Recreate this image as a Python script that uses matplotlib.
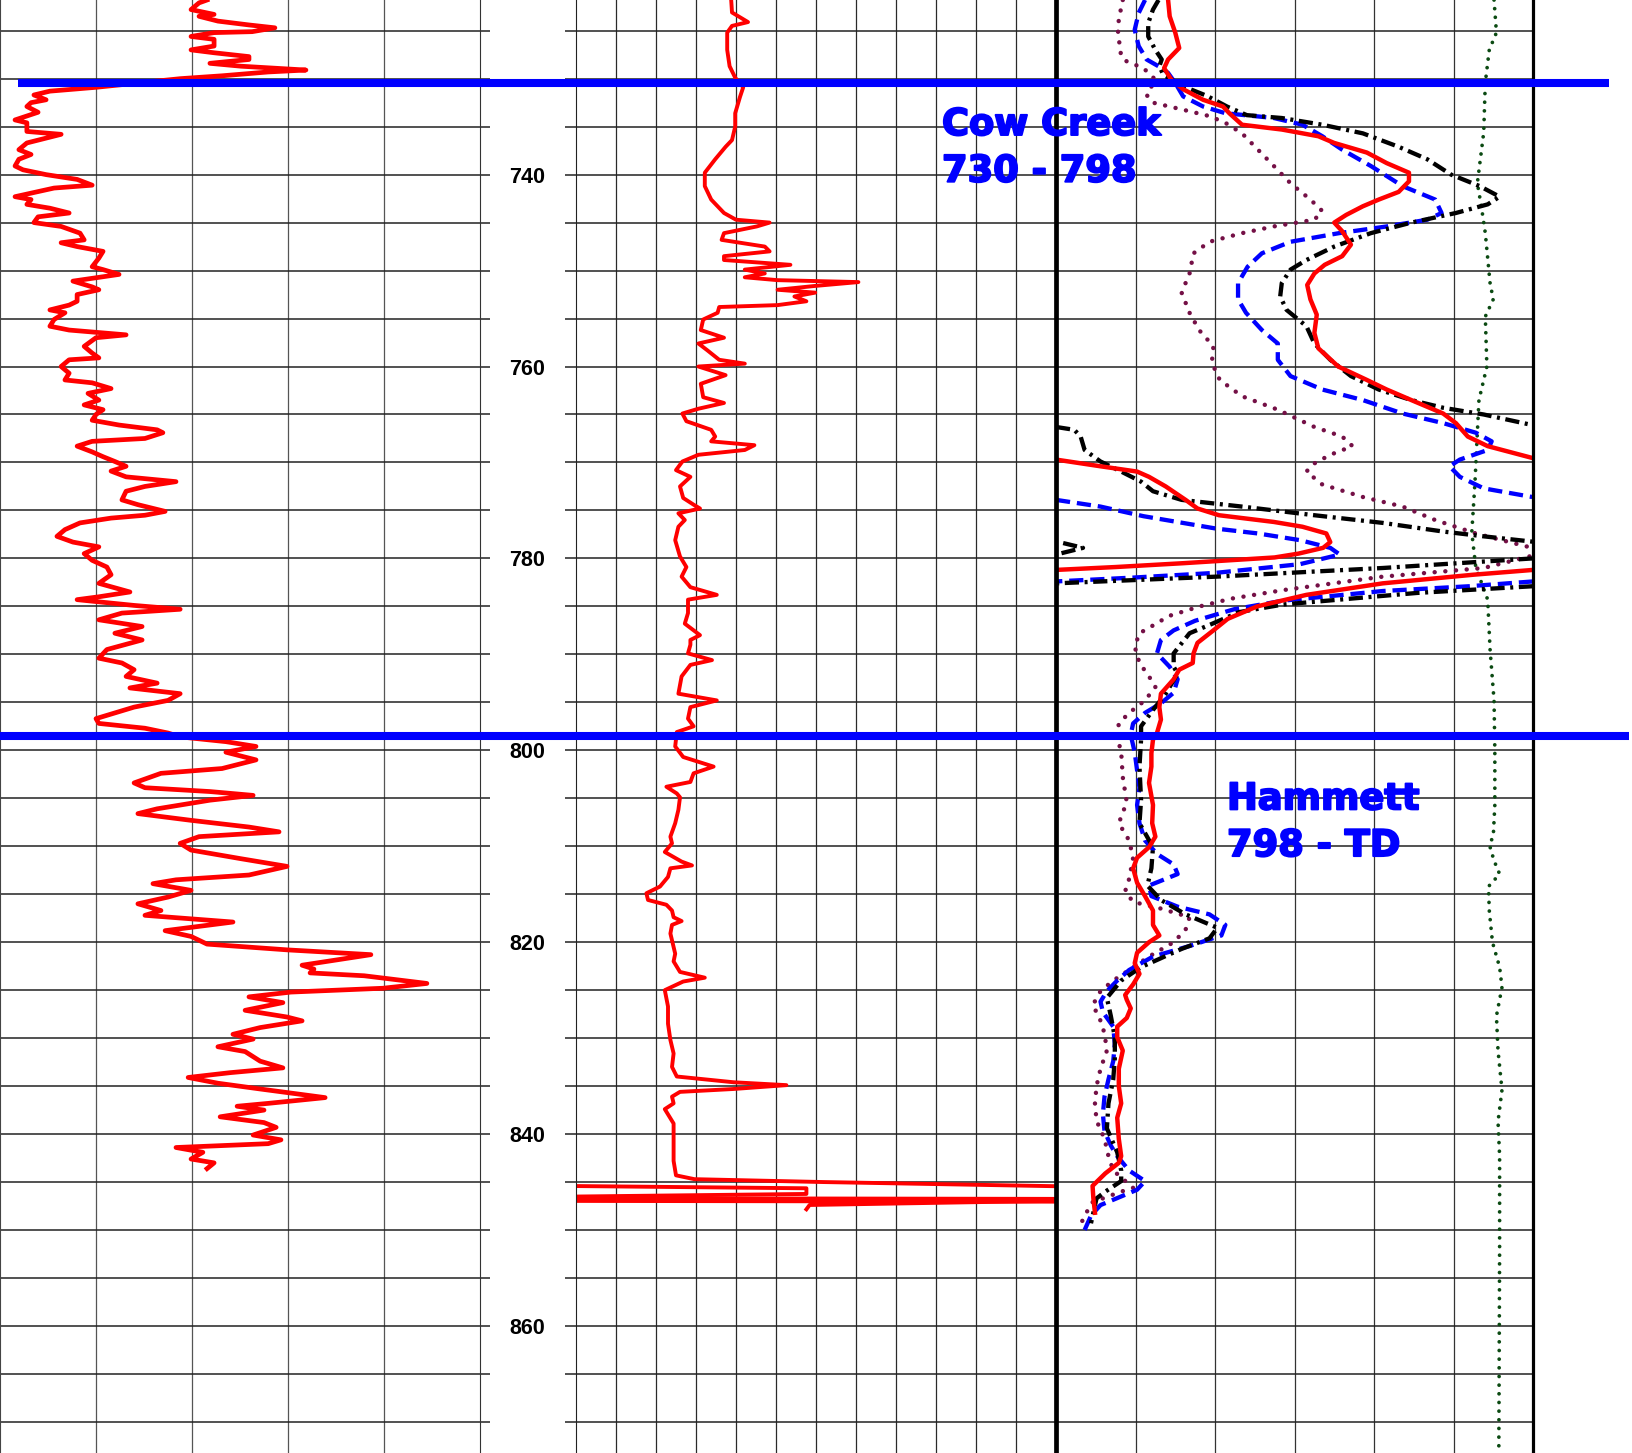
import numpy as np
import matplotlib.pyplot as plt
import matplotlib.patheffects as pe
from matplotlib.lines import Line2D
from matplotlib.transforms import blended_transform_factory

nan = np.nan

# depth window of the log section
depth_top, depth_base = 721.8, 873.24
depth_labels = [740, 760, 780, 800, 820, 840, 860]
grid_depths = np.arange(725, 871, 5)

# formation tops
formation_tops = [730.5, 798.5]
formation_names = ['Cow Creek', 'Hammett']
formation_ranges = ['730 - 798', '798 - TD']

# track 1 - gamma ray (0-150)
gr_depth = [
    721.8, 722.1, 722.8, 723.3, 723.5, 724.0, 724.4, 724.7, 725.1, 725.2,
    725.6, 725.9, 726.6, 727.0, 727.3, 727.7, 728.0, 728.4, 728.7, 729.1,
    729.3, 729.7, 730.0, 730.9, 731.3, 731.7, 732.2, 732.5, 732.9, 733.5,
    734.3, 734.6, 735.5, 735.8, 736.4, 736.7, 737.4, 737.9, 738.4, 739.1,
    739.5, 740.0, 740.5, 741.1, 741.4, 742.3, 742.6, 743.1, 743.5, 744.0,
    744.4, 745.0, 745.4, 746.1, 746.8, 747.1, 747.5, 748.0, 748.7, 749.6,
    749.9, 750.4, 751.1, 751.7, 752.0, 752.5, 753.2, 753.6, 754.1, 754.4,
    755.1, 755.8, 756.2, 756.7, 757.0, 757.9, 758.6, 759.1, 759.3, 760.0,
    760.7, 761.4, 761.7, 762.3, 762.8, 763.5, 764.0, 764.5, 765.0, 765.6,
    766.1, 766.6, 766.9, 767.5, 767.8, 768.3, 768.9, 769.4, 769.9, 770.4,
    770.9, 771.5, 772.0, 772.5, 773.0, 773.9, 774.4, 775.1, 775.5, 775.8,
    776.3, 777.0, 777.7, 778.3, 778.8, 779.5, 780.2, 780.9, 781.7, 782.6,
    783.5, 784.0, 784.3, 784.9, 785.3, 785.7, 786.4, 787.1, 787.8, 788.5,
    789.5, 790.4, 790.9, 791.6, 792.3, 793.0, 793.5, 794.1, 794.8, 795.5,
    796.1, 796.7, 797.2, 797.7, 798.2, 798.6, 799.1, 799.6, 800.2, 801.0,
    801.9, 802.4, 803.1, 803.4, 803.9, 804.3, 804.7, 805.2, 806.1, 806.6,
    806.9, 807.3, 808.0, 808.5, 809.0, 809.7, 810.4, 811.3, 812.1, 813.0,
    813.5, 813.9, 814.6, 815.3, 816.0, 816.7, 817.2, 817.9, 818.8, 819.4,
    820.2, 820.8, 821.3, 822.4, 822.8, 823.2, 823.5, 824.3, 824.8, 825.2,
    825.7, 826.3, 827.1, 827.8, 828.2, 828.9, 829.6, 830.1, 830.9, 831.4,
    832.4, 833.1, 833.6, 834.1, 834.7, 835.3, 836.2, 836.8, 837.1, 837.5,
    838.2, 838.8, 839.3, 840.1, 840.6, 841.0, 841.4, 841.9, 842.6, 843.0,
    843.6]
gr_api = [
    64.7, 62.2, 59.7, 66.9, 62.2, 68.1, 77.8, 85.9, 78.8, 66.9,
    59.7, 66.9, 66.9, 59.7, 66.9, 77.8, 77.8, 65.6, 75.3, 95.6,
    83.8, 69.4, 56.3, 30.0, 15.6, 10.6, 14.4, 9.7, 8.4, 11.9,
    4.7, 8.4, 8.4, 19.1, 11.9, 8.4, 5.9, 9.7, 5.9, 4.7,
    7.2, 14.4, 24.1, 28.8, 16.9, 4.7, 9.7, 8.4, 15.6, 21.6,
    11.9, 10.6, 19.1, 25.0, 26.3, 19.1, 24.1, 32.2, 30.9, 28.8,
    32.2, 37.2, 22.8, 28.8, 30.9, 24.1, 24.1, 21.6, 15.6, 20.3,
    16.9, 15.6, 21.6, 39.4, 30.0, 26.3, 28.8, 30.9, 21.6, 19.1,
    21.6, 20.3, 28.8, 34.7, 27.5, 30.9, 26.3, 32.2, 30.0, 28.8,
    37.2, 49.1, 50.9, 45.3, 28.8, 24.1, 28.8, 32.2, 35.9, 39.4,
    34.7, 39.4, 55.0, 45.3, 39.4, 38.1, 43.1, 51.6, 45.3, 34.7,
    25.0, 20.3, 17.8, 22.8, 30.9, 26.3, 28.8, 33.4, 34.7, 30.9,
    40.6, 30.9, 24.1, 41.9, 56.3, 38.1, 30.9, 44.4, 35.9, 44.4,
    33.4, 30.9, 38.1, 41.9, 39.4, 49.1, 40.6, 56.3, 52.5, 41.9,
    35.9, 30.0, 30.9, 45.3, 52.5, 56.3, 70.6, 80.0, 70.6, 80.0,
    69.4, 50.3, 44.4, 41.9, 45.3, 65.6, 79.1, 65.6, 49.1, 43.1,
    50.3, 59.7, 77.8, 87.2, 62.2, 56.3, 59.7, 75.3, 89.7, 77.8,
    55.0, 47.8, 59.7, 52.5, 43.1, 50.3, 45.3, 72.8, 51.6, 59.7,
    64.7, 89.7, 115.9, 94.4, 98.1, 96.9, 113.8, 133.4, 119.7, 90.9,
    77.8, 88.4, 76.6, 89.7, 94.4, 81.3, 72.8, 79.1, 68.1, 76.6,
    81.3, 88.4, 71.9, 58.8, 68.1, 81.3, 101.6, 83.8, 74.1, 82.5,
    68.8, 82.5, 86.3, 79.1, 87.8, 83.8, 55.0, 63.4, 59.7, 66.9,
    64.7]

# track 2 - middle curve (0-60)
mid_depth = [
    721.8, 723.1, 723.6, 724.1, 724.5, 725.2, 727.0, 728.7, 729.9, 730.9,
    731.9, 733.6, 735.0, 736.4, 737.1, 738.4, 739.8, 741.2, 742.6, 744.0,
    744.7, 745.0, 745.4, 746.1, 746.8, 747.5, 748.0, 748.5, 748.9, 749.4,
    749.9, 750.3, 750.7, 751.0, 751.2, 751.6, 752.0, 752.3, 752.7, 753.2,
    753.6, 753.8, 754.4, 755.1, 756.2, 757.0, 757.6, 758.3, 759.3, 759.7,
    760.0, 760.9, 761.8, 763.2, 763.8, 764.4, 764.9, 765.7, 766.6, 767.3,
    767.8, 768.2, 768.7, 769.2, 769.9, 770.8, 771.5, 772.5, 773.7, 774.4,
    774.8, 775.3, 776.0, 776.7, 778.1, 779.8, 780.9, 781.9, 783.0, 783.8,
    784.3, 785.7, 786.8, 788.0, 788.5, 789.0, 789.9, 790.6, 791.1, 792.3,
    794.1, 794.8, 795.5, 796.7, 797.5, 798.1, 799.6, 800.7, 801.7, 802.4,
    803.3, 803.8, 804.5, 804.9, 806.2, 807.6, 809.0, 809.7, 810.6, 811.6,
    812.0, 812.3, 813.2, 814.2, 814.9, 815.6, 816.1, 816.7, 817.4, 817.8,
    818.2, 819.1, 820.5, 821.2, 822.0, 823.1, 823.7, 824.1, 825.0, 826.7,
    828.5, 830.2, 831.6, 833.0, 834.0, 834.6, 834.9, 835.3, 835.6, 836.1,
    836.8, 837.4, 838.9, 841.0, 842.8, 844.3, 844.7, 845.0, 845.45]
mid_value = [
    19.4, 19.5, 20.5, 21.5, 19.5, 18.9, 18.9, 19.2, 19.9, 20.9,
    20.5, 19.9, 19.9, 19.5, 18.7, 17.4, 16.1, 16.1, 16.9, 18.5,
    20.0, 24.2, 22.6, 18.5, 18.2, 23.6, 24.2, 18.5, 18.5, 26.8,
    21.1, 23.6, 21.1, 25.2, 35.3, 29.9, 25.2, 29.9, 27.3, 28.8,
    25.2, 17.9, 17.7, 15.9, 15.6, 18.5, 15.3, 16.4, 17.9, 21.1,
    15.3, 18.7, 15.6, 15.9, 18.5, 15.3, 13.3, 13.8, 16.9, 17.4,
    16.9, 22.3, 21.1, 15.3, 13.3, 12.5, 14.3, 13.0, 13.4, 14.7,
    15.5, 12.8, 13.6, 12.8, 12.4, 13.0, 13.8, 13.2, 14.3, 17.6,
    14.0, 14.0, 13.6, 15.5, 14.3, 14.3, 14.0, 17.0, 14.3, 13.2,
    12.8, 17.6, 14.3, 14.0, 14.7, 12.6, 12.4, 13.4, 17.2, 14.7,
    14.3, 11.3, 12.6, 13.0, 12.8, 12.4, 11.8, 12.0, 11.1, 13.2,
    14.5, 11.8, 11.5, 10.5, 8.8, 9.0, 11.3, 12.0, 12.2, 13.2,
    12.0, 11.8, 12.2, 12.4, 12.2, 13.0, 16.1, 13.4, 11.1, 11.5,
    11.5, 11.8, 12.2, 12.0, 12.6, 19.7, 26.3, 19.7, 13.0, 12.0,
    12.2, 11.1, 12.2, 12.2, 12.2, 12.5, 14.8, 30.9, 61.0]
# off-scale traces at the base of the log
mid_tail_depth = [845.41, 845.65, 846.24, 846.52, nan, 846.94, 847.39, 847.84]
mid_tail_value = [-1.0, 28.8, 28.8, -1.0, nan, 61.0, 29.2, 28.8]
mid_base_depth = [846.82, 846.90]
mid_base_value = [-1.0, 61.0]

# track 3 (0-60), nan marks a wrap of the curve across the track
red_depth = [
    721.8, 723.5, 725.2, 726.8, 728.0, 728.9, 730.1, 731.1, 732.2, 732.9,
    733.6, 734.8, 735.3, 736.0, 736.7, 737.7, 738.8, 739.8, 740.7, 741.8,
    742.6, 743.3, 744.2, 745.0, 745.9, 747.3, 748.5, 749.4, 750.3, 751.5,
    753.0, 754.6, 756.5, 758.1, 760.0, 761.4, 762.4, 763.5, 764.9, 765.9,
    767.3, 768.3, 769.55, nan,
    769.7, 770.4, 770.95, 771.5, 772.5, 773.9, 774.8, 775.5, 776.2, 776.7,
    777.4, 778.3, 778.9, 779.5, 779.9, 780.5, 780.9, 781.2, nan,
    781.2, 781.7, 782.6, 783.8, 785.0, 786.3, 787.5, 788.8, 789.9, 790.9,
    791.6, 792.6, 794.1, 795.5, 796.8, 798.2, 798.9, 800.3, 801.7, 803.4,
    805.7, 807.6, 809.0, 810.1, 811.2, 812.3, 813.8, 815.2, 816.7, 818.2,
    819.3, 820.0, 821.1, 822.2, 823.3, 824.4, 825.5, 826.0, 826.9, 827.9,
    828.8, 829.9, 831.3, 833.2, 835.0, 836.8, 838.3, 840.5, 842.3, 843.0,
    844.1, 845.4, 846.7, 848.2]
red_value = [
    14.1, 14.3, 15.0, 15.5, 14.1, 13.6, 14.5, 16.0, 18.5, 21.0,
    21.8, 23.4, 28.4, 33.0, 35.0, 39.1, 41.6, 44.4, 44.4, 43.1,
    40.6, 38.6, 36.5, 35.0, 36.0, 37.1, 36.0, 33.8, 32.5, 31.6,
    32.0, 32.8, 32.5, 33.0, 35.5, 39.1, 41.6, 44.7, 48.7, 50.3,
    51.8, 54.3, 60.0, nan,
    0.0, 5.6, 10.2, 11.7, 13.8, 16.3, 17.8, 20.5, 27.4, 31.0,
    34.0, 34.5, 33.6, 30.5, 27.5, 16.0, 7.5, 0.0, nan,
    60.0, 52.5, 41.1, 31.5, 25.3, 21.6, 19.8, 17.8, 17.3, 17.2,
    15.5, 14.8, 13.2, 13.0, 13.2, 12.7, 12.2, 12.0, 12.0, 11.7,
    12.2, 12.1, 12.5, 11.7, 10.2, 9.7, 10.2, 11.2, 12.2, 12.2,
    13.0, 11.7, 10.2, 9.9, 10.5, 9.7, 8.7, 8.9, 9.4, 8.9,
    7.7, 7.7, 8.4, 7.9, 7.9, 8.2, 7.7, 7.9, 8.2, 7.9,
    6.2, 4.6, 4.7, 4.9]

blue_depth = [
    721.8, 723.15, 724.9, 726.6, 728.0, 728.9, 729.4, 730.45, 731.85, 732.9,
    733.6, 734.1, 734.8, 736.0, 737.4, 739.1, 741.2, 742.6, 744.0, 744.7,
    745.4, 746.1, 747.0, 748.2, 749.6, 751.3, 753.0, 754.4, 756.2, 757.6,
    759.3, 761.0, 762.4, 763.5, 764.9, 765.9, 766.9, 767.8, 768.7, 769.7,
    770.4, 771.5, 772.7, 773.6, nan,
    773.9, 774.6, 775.6, 776.9, 777.4, 778.1, 778.9, 779.6, 780.6, 781.5,
    782.0, 782.4, nan,
    782.4, 782.9, 783.4, 784.4, 785.3, 786.5, 787.5, 788.5, 789.9, 791.3,
    792.6, 794.0, 795.1, 796.1, 797.2, 798.4, 800.2, 802.1, 803.9, 805.7,
    807.6, 809.4, 810.8, 811.9, 812.9, 813.6, 814.1, 815.2, 816.3, 817.1,
    818.2, 819.3, 820.4, 821.5, 822.9, 824.0, 825.1, 826.2, 827.3, 828.8,
    830.6, 832.4, 834.3, 836.1, 837.9, 839.7, 841.2, 842.3, 843.8, 844.9,
    845.8, 846.5, 847.4, 848.5, 850.0]
blue_value = [
    11.2, 10.4, 9.9, 10.4, 11.4, 13.3, 14.1, 15.0, 16.0, 18.5,
    21.3, 27.4, 31.0, 33.5, 36.0, 39.6, 43.6, 47.7, 48.5, 46.7,
    41.6, 35.6, 29.5, 25.9, 24.1, 22.9, 22.9, 23.9, 25.9, 27.9,
    27.9, 29.5, 33.5, 38.6, 43.6, 48.7, 52.8, 54.8, 54.3, 50.8,
    49.5, 50.8, 53.8, 59.9, nan,
    0.0, 5.6, 11.0, 20.2, 25.4, 30.7, 34.5, 35.7, 30.7, 20.2,
    9.7, 0.0, nan,
    60.0, 52.0, 41.1, 28.6, 22.4, 17.5, 14.8, 13.2, 12.7, 14.3,
    15.3, 14.8, 13.2, 11.2, 9.7, 9.4, 9.9, 10.2, 10.5, 10.2,
    10.5, 11.2, 12.7, 14.8, 15.3, 13.2, 11.7, 12.0, 15.3, 19.3,
    21.3, 20.8, 16.8, 12.2, 9.2, 7.7, 6.4, 5.6, 5.9, 7.2,
    7.4, 7.2, 6.6, 6.1, 5.9, 6.1, 6.9, 7.7, 9.2, 11.2,
    10.2, 8.2, 5.6, 4.4, 3.6]

black_depth = [
    721.8, 722.8, 724.2, 725.6, 727.0, 728.0, 728.7, 729.6, 730.8, 731.8,
    732.9, 733.8, 734.1, 734.8, 735.7, 737.1, 738.4, 740.0, 741.2, 742.3,
    743.1, 744.0, 745.0, 746.1, 747.5, 748.9, 749.9, 751.3, 752.7, 754.1,
    755.8, 757.6, 759.3, 761.0, 762.4, 763.5, 764.3, 765.0, 766.1, nan,
    766.3, 766.6, 767.3, 768.7, 769.9, 770.95, 772.0, 773.0, 773.9, 774.6,
    775.5, 776.3, 777.2, 777.7, 778.25, nan,
    778.4, 778.9, 779.6, nan,
    780.0, 781.0, 781.9, 782.6, nan,
    782.9, 783.6, 784.8, 785.6, 786.9, 787.8, 789.9, 791.3, 792.0, 794.1,
    795.8, 797.5, 798.9, 801.7, 805.2, 807.6, 810.1, 812.3, 814.1, 815.6,
    817.1, 818.5, 819.6, 820.7, 822.6, 824.0, 825.8, 827.7, 829.9, 832.1,
    834.3, 836.8, 839.4, 841.9, 843.8, 844.9, 846.0, 846.7, 849.3]
black_value = [
    12.9, 12.2, 11.6, 11.6, 12.5, 13.3, 13.0, 13.5, 16.0, 19.0,
    21.5, 24.0, 28.4, 33.5, 38.6, 43.1, 46.7, 49.7, 53.3, 55.8,
    54.3, 50.3, 44.7, 39.6, 35.0, 31.5, 29.5, 28.4, 28.2, 29.0,
    31.5, 32.5, 34.5, 37.1, 40.6, 44.7, 48.7, 53.8, 59.9, nan,
    0.0, 2.3, 3.1, 3.6, 5.6, 8.2, 10.7, 12.2, 15.8, 23.4,
    32.5, 41.1, 48.7, 53.8, 59.9, nan,
    0.9, 3.4, 0.0, nan,
    60.0, 41.1, 20.2, 0.0, nan,
    60.0, 45.4, 28.6, 23.0, 19.4, 16.8, 14.8, 14.8, 15.3, 13.8,
    12.2, 10.7, 10.7, 10.5, 10.7, 10.5, 12.2, 12.0, 11.5, 13.2,
    16.3, 20.3, 19.3, 15.8, 10.7, 8.2, 6.4, 6.9, 7.4, 7.4,
    7.2, 6.6, 6.4, 7.7, 8.2, 8.2, 6.2, 5.1, 4.4]

maroon_depth = [
    721.8, 723.8, 725.2, 727.7, 728.2, 728.9, 730.1, 731.7, 732.5, 733.2,
    733.9, 734.6, 735.7, 737.4, 739.1, 740.9, 742.6, 743.8, 744.7, 745.4,
    746.1, 747.0, 748.2, 750.3, 752.3, 754.4, 756.2, 757.9, 759.6, 761.4,
    763.1, 764.5, 766.3, 767.3, 768.3, 769.2, 770.1, 770.95, 772.3, 773.6,
    774.6, 776.0, 777.4, 778.25, 778.9, 779.4, 779.8, 781.0, 781.9, 783.3,
    784.2, 785.0, 786.0, 786.8, 787.8, 789.2, 790.9, 792.3, 793.4, 794.8,
    796.1, 797.2, 798.6, 800.2, 802.8, 805.4, 807.6, 809.4, 811.2, 813.4,
    814.7, 815.8, 816.5, 817.4, 818.7, 820.0, 821.5, 822.9, 824.0, 825.1,
    826.6, 827.7, 829.5, 831.3, 833.2, 835.0, 836.8, 838.6, 840.5, 842.3,
    843.8, 845.6, 846.0, 847.1, 848.5, 850.0]
maroon_value = [
    8.4, 7.9, 7.8, 8.2, 8.9, 11.0, 12.5, 11.4, 12.2, 15.8,
    19.3, 21.3, 23.4, 25.4, 27.4, 29.5, 32.0, 33.5, 32.5, 27.4,
    23.4, 19.3, 17.3, 16.8, 15.8, 16.8, 18.0, 19.8, 19.6, 20.6,
    23.4, 27.9, 32.5, 36.0, 37.3, 34.5, 32.5, 31.5, 33.5, 38.6,
    43.6, 47.7, 52.8, 56.8, 59.9, 62.0, 59.5, 53.8, 41.1, 28.6,
    22.0, 18.1, 14.2, 12.6, 10.5, 9.9, 10.5, 11.7, 12.5, 11.2,
    9.2, 7.9, 7.7, 8.2, 8.4, 8.9, 7.9, 9.2, 9.7, 9.2,
    8.7, 9.7, 13.2, 16.8, 16.3, 14.8, 11.7, 9.2, 7.2, 5.6,
    4.6, 5.4, 6.1, 6.4, 5.6, 5.1, 4.9, 5.1, 6.1, 6.6,
    7.2, 9.7, 8.2, 4.6, 3.6, 2.8]

green_depth = [
    721.8, 725.2, 727.0, 730.4, 735.6, 740.9, 743.3, 746.1, 751.3, 753.0,
    754.8, 760.0, 763.5, 766.9, 772.1, 777.3, 780.9, 784.3, 789.5, 794.8,
    800.0, 805.7, 809.0, 809.8, 811.5, 812.9, 814.2, 816.7, 820.0, 822.6,
    824.7, 827.7, 831.3, 835.4, 838.7, 842.3, 846.0, 851.8, 873.2]
green_value = [
    55.1, 55.4, 54.5, 54.0, 53.8, 53.0, 53.5, 54.0, 54.6, 55.0,
    54.0, 54.2, 53.2, 53.0, 52.7, 52.3, 52.8, 54.3, 54.6, 55.1,
    55.2, 55.2, 55.0, 54.5, 55.1, 55.8, 54.4, 54.5, 54.9, 55.8,
    56.1, 55.4, 55.6, 56.1, 55.6, 55.8, 55.8, 55.8, 55.7]

W, H = 1632, 1453
fig = plt.figure(figsize=(W / 100, H / 100), dpi=100)
ax_gr = fig.add_axes([0, 0, 480 / W, 1])
ax_mid = fig.add_axes([576 / W, 0, 480 / W, 1])
ax_rt = fig.add_axes([1056 / W, 0, 477 / W, 1])


def setup(ax, xmax, xgrid, vcolor):
    ax.set_xlim(0, xmax)
    ax.set_ylim(depth_base, depth_top)
    ax.set_xticks(xgrid)
    ax.set_yticks(depth_labels)
    ax.set_yticks(grid_depths, minor=True)
    ax.set_axisbelow(True)
    ax.grid(axis='y', which='both', color='#222222', lw=1.1)
    ax.grid(axis='x', color=vcolor, lw=0.9)
    ax.tick_params(axis='x', length=0, labelbottom=False)
    ax.spines['top'].set_visible(False)
    ax.spines['bottom'].set_visible(False)


setup(ax_gr, 150, [30, 60, 90, 120], '#555555')
setup(ax_mid, 60, np.arange(5, 60, 5), '#2a2a2a')
setup(ax_rt, 60, [10, 20, 30, 40, 50], '#333333')

ax_gr.tick_params(axis='y', which='both', left=False, right=True, labelleft=False,
                  direction='out', length=7.2, width=1.1, color='#222222')
ax_gr.spines['left'].set_color('#444444')
ax_gr.spines['right'].set_color('#333333')

ax_mid.tick_params(axis='y', which='both', left=True, right=False, direction='out',
                   length=8, width=1.1, color='#222222')
ax_mid.tick_params(axis='y', which='major', pad=14.5, labelsize=15.5)
for lab in ax_mid.get_yticklabels():
    lab.set_fontfamily('Liberation Sans')
    lab.set_fontweight('bold')
ax_mid.spines['left'].set_color('#222222')
ax_mid.spines['right'].set_visible(False)

ax_rt.tick_params(axis='y', which='both', left=False, right=False, labelleft=False)
ax_rt.spines['left'].set_linewidth(3.4)
ax_rt.spines['right'].set_linewidth(2.3)

# curves
ax_gr.plot(gr_api, gr_depth, color='red', lw=3.4)
ax_mid.plot(mid_value, mid_depth, color='red', lw=2.8)
ax_mid.plot(mid_tail_value, mid_tail_depth, color='red', lw=2.8)
ax_mid.plot(mid_base_value, mid_base_depth, color='red', lw=4.8)

ax_rt.plot(green_value, green_depth, color='#0b4a12', lw=2.7,
           linestyle=(0, (0.01, 2.3)), dash_capstyle='round')
ax_rt.plot(maroon_value, maroon_depth, color='#741046', lw=3.2,
           linestyle=(0, (0.01, 2.4)), dash_capstyle='round')
ax_rt.plot(blue_value, blue_depth, color='#0000ff', lw=3.1,
           linestyle=(0, (3.3, 1.6)))
ax_rt.plot(black_value, black_depth, color='black', lw=3.1,
           linestyle=(0, (3.3, 1.3, 0.7, 1.3)))
ax_rt.plot(red_value, red_depth, color='red', lw=3.2)

# formation tops drawn across all tracks
trans = blended_transform_factory(fig.transFigure, ax_gr.transData)
top_spans = [(17.7 / W, 1608.6 / W), (0.0, 1629.0 / W)]
for d, (x0, x1) in zip(formation_tops, top_spans):
    fig.add_artist(Line2D([x0, x1], [d, d], transform=trans, color='#0000ff',
                          lw=5.8, solid_capstyle='butt'))

label_pos = [(942 / W, 135.0, 181.7), (1227 / W, 809.4, 856.1)]
for name, rng, (x, b1, b2) in zip(formation_names, formation_ranges, label_pos):
    for txt, b in [(name, b1), (rng, b2)]:
        fig.text(x, 1 - b / H, txt, color='#0000ff', fontsize=26.5,
                 fontweight='bold', family='DejaVu Sans', va='baseline', ha='left',
                 path_effects=[pe.withStroke(linewidth=1.4, foreground='#0000ff')])

fig.savefig('out.png', dpi=100)
